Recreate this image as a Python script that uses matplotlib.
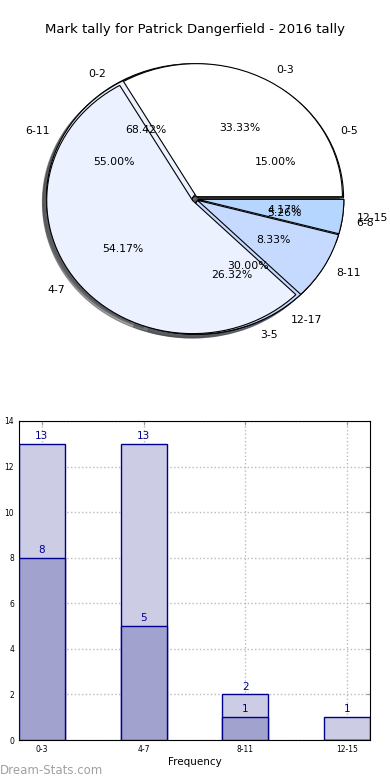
import numpy as np
import matplotlib
matplotlib.use("Agg")
import matplotlib.pyplot as plt

# pie data: three overlaid pies
labels_a = ["0-3", "4-7", "8-11", "12-15"]
values_a = [8, 13, 2, 1]
labels_b = ["0-5", "6-11", "12-17"]
values_b = [3, 11, 6]
labels_c = ["0-2", "3-5", "6-8"]
values_c = [13, 5, 1]
pie_colors = ["#ffffff", "#ebf1fe", "#c6d9fe", "#b5d6fe"]

# bar data
bar_cats = ["0-3", "4-7", "8-11", "12-15"]
bar_total = [13, 13, 2, 1]
bar_inner = [8, 5, 1, 0]

fig = plt.figure(figsize=(3.9, 7.8), dpi=100)
fig.text(0.5, 1 - 30 / 780, "Mark tally for Patrick Dangerfield - 2016 tally",
         ha="center", va="center", fontsize=9.5)

# pie part (slightly squashed, like the original)
ax1 = fig.add_axes([0, 0.4949, 1, 0.5])
for vals, labs in [(values_c, labels_c), (values_b, labels_b), (values_a, labels_a)]:
    ax1.pie(vals, labels=labs, colors=pie_colors[:len(vals)], autopct="%.2f%%",
            explode=[0.02] * len(vals), shadow=True, startangle=0,
            wedgeprops=dict(edgecolor="black", linewidth=0.8),
            textprops=dict(fontsize=7.8))
ax1.set_aspect("auto")
ax1.set_xlim(-1.336, 1.336)
ax1.set_ylim(-1.466, 1.466)
ax1.axis("off")

# bar part
ax2 = fig.add_axes([19 / 390, 1 - 740 / 780, 351 / 390, 319 / 780])
x = np.arange(len(bar_cats))
w = 0.45
ax2.bar(x, bar_total, width=w, color="#ccccE4", edgecolor="#00008f", linewidth=1, zorder=2)
ax2.bar(x, bar_inner, width=w, color="#a2a2cf", edgecolor="#00008f", linewidth=1, zorder=3)
for i in range(len(x)):
    ax2.text(x[i], bar_total[i] + 0.12, str(bar_total[i]), ha="center", va="bottom",
             color="#00008f", fontsize=7.5, zorder=4)
    if bar_inner[i] > 0:
        ax2.text(x[i], bar_inner[i] + 0.12, str(bar_inner[i]), ha="center", va="bottom",
                 color="#00008f", fontsize=7.5, zorder=4)
ax2.set_xlim(-0.225, 3.225)
ax2.set_ylim(0, 14)
ax2.set_yticks(range(0, 15, 2))
ax2.set_xticks(x)
ax2.set_xticklabels(bar_cats)
ax2.tick_params(direction="in", top=True, right=True, labelsize=5.5, length=3,
                color="#999999")
ax2.grid(True, linestyle=":", color="#bbbbbb", linewidth=1, zorder=0)
ax2.set_axisbelow(True)
ax2.set_xlabel("Frequency", fontsize=7.5, labelpad=2)
ax2.set_ylabel("Number of Games", fontsize=7.5, labelpad=6)
ax2.yaxis.set_label_coords(-0.06, 0.5)

fig.text(0.0, 1 - 770 / 780, "Dream-Stats.com", ha="left", va="center",
         fontsize=8.5, color="#a0a0a0")

fig.savefig("out.png", dpi=100)
